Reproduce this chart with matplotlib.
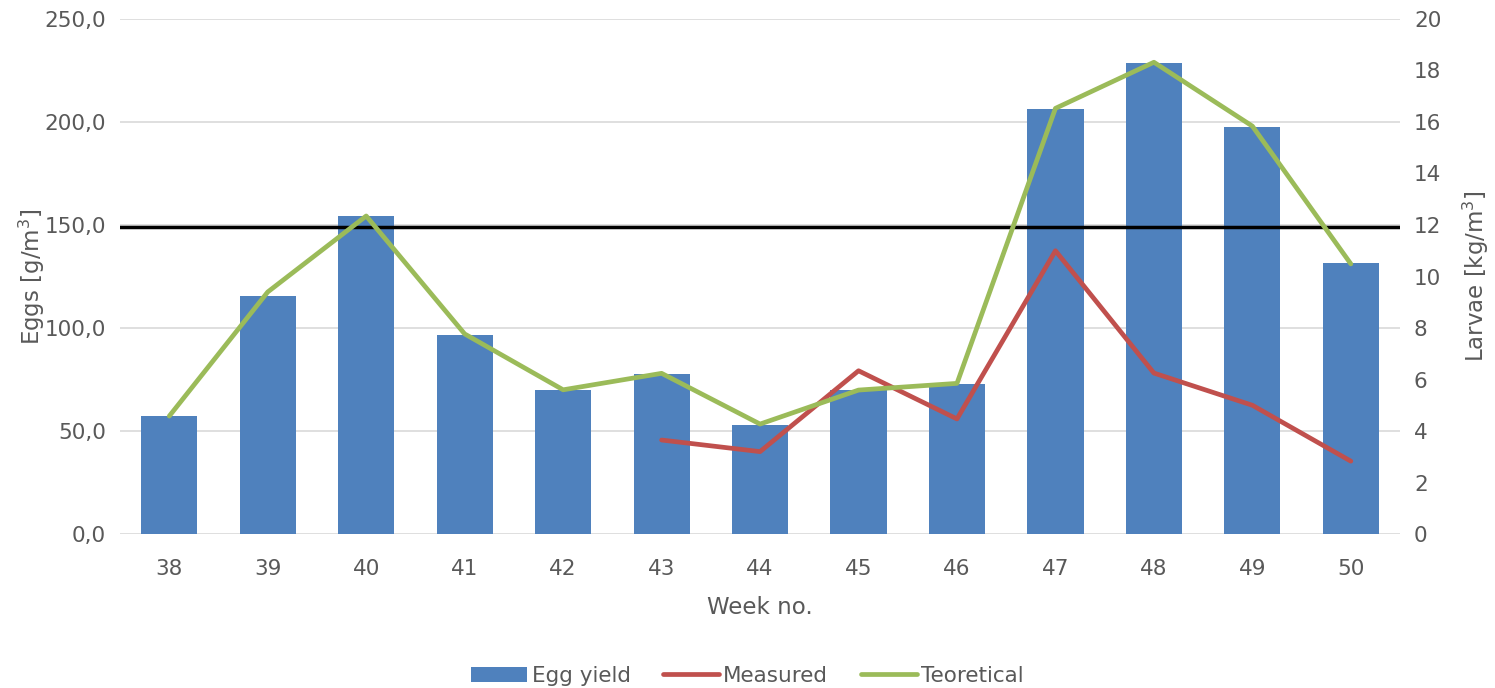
import matplotlib.pyplot as plt
from matplotlib.ticker import FuncFormatter

# data
weeks = ["38", "39", "40", "41", "42", "43", "44", "45", "46", "47", "48", "49", "50"]
egg_yield = [57.3, 115.5, 154.4, 96.6, 69.9, 77.5, 52.9, 69.9, 73.0, 206.2, 228.5, 197.4, 131.4]
measured = [None, None, None, None, None, 3.65, 3.2, 6.34, 4.47, 11.0, 6.25, 5.0, 2.83]
teoretical = [4.58, 9.4, 12.35, 7.77, 5.6, 6.24, 4.27, 5.59, 5.85, 16.53, 18.32, 15.84, 10.49]
threshold = 149.0

blue = "#4F81BD"
red = "#C0504D"
green = "#9BBB59"
txt = "#595959"


def main():
    plt.rcParams["font.family"] = ["DejaVu Sans"]
    fig = plt.figure(figsize=(14.95, 6.88), dpi=100)
    ax = fig.add_axes([0.0803, 0.2238, 0.8562, 0.7486])
    ax2 = ax.twinx()

    x = list(range(len(weeks)))
    bars = ax.bar(x, egg_yield, width=0.57, color=blue, zorder=2, label="Egg yield")
    ax.axhline(threshold, color="black", lw=2.5, zorder=3)

    mx = [i for i, v in zip(x, measured) if v is not None]
    my = [v for v in measured if v is not None]
    l1, = ax2.plot(mx, my, color=red, lw=3.4, solid_capstyle="round", label="Measured")
    l2, = ax2.plot(x, teoretical, color=green, lw=3.4, solid_capstyle="round", label="Teoretical")

    ax.set_xlim(-0.5, len(weeks) - 0.5)
    ax.set_ylim(0, 250)
    ax2.set_ylim(0, 20)
    ax.set_yticks(range(0, 251, 50))
    ax2.set_yticks(range(0, 21, 2))
    ax.yaxis.set_major_formatter(FuncFormatter(lambda v, p: f"{v:.1f}".replace(".", ",")))
    ax.set_xticks(x)
    ax.set_xticklabels(weeks)

    ax.grid(axis="y", color="#D9D9D9", lw=1.2, zorder=0)
    ax.set_axisbelow(True)
    for a in (ax, ax2):
        for s in a.spines.values():
            s.set_visible(False)
        a.tick_params(length=0, labelsize=15.5, colors=txt, pad=10)
    ax.tick_params(axis="x", pad=18)

    ax.set_xlabel("Week no.", fontsize=16.5, color=txt, labelpad=12)
    ax.set_ylabel("Eggs [g/m$^3$]", fontsize=16.5, color=txt, labelpad=-2)
    ax2.set_ylabel("Larvae [kg/m$^3$]", fontsize=16.5, color=txt, labelpad=14)

    fig.legend(handles=[bars, l1, l2], loc="lower center", bbox_to_anchor=(0.5, -0.025),
               ncol=3, frameon=False, fontsize=15.5, labelcolor=txt,
               handlelength=2.6, handletextpad=0.2, columnspacing=1.5)

    fig.savefig("out.png", dpi=100)


if __name__ == "__main__":
    main()
